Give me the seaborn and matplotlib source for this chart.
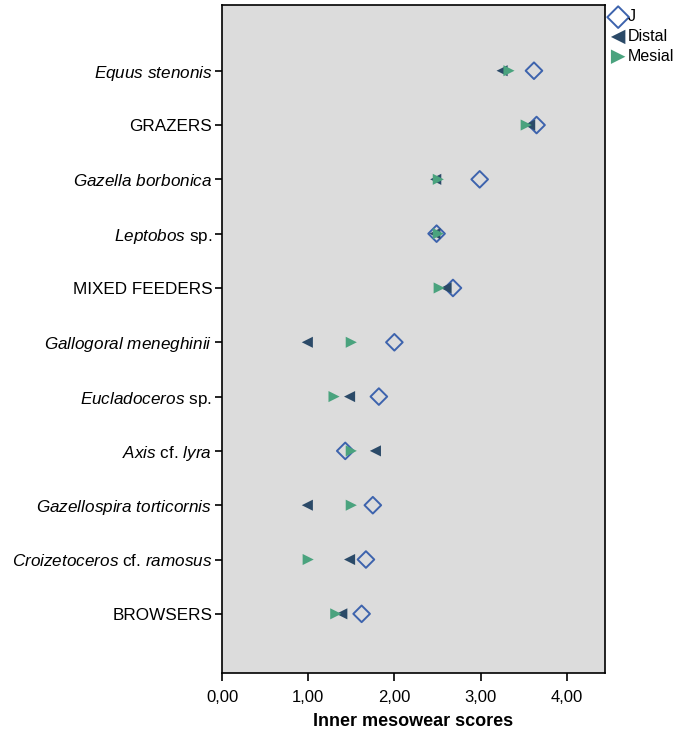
import matplotlib
matplotlib.use("Agg")
import matplotlib.pyplot as plt
import seaborn as sns
import pandas as pd
from matplotlib.ticker import FuncFormatter

categories = [
    r"$\it{Equus\ stenonis}$",
    "GRAZERS",
    r"$\it{Gazella\ borbonica}$",
    r"$\it{Leptobos}$ sp.",
    "MIXED FEEDERS",
    r"$\it{Gallogoral\ meneghinii}$",
    r"$\it{Eucladoceros}$ sp.",
    r"$\it{Axis}$ cf. $\it{lyra}$",
    r"$\it{Gazellospira\ torticornis}$",
    r"$\it{Croizetoceros}$ cf. $\it{ramosus}$",
    "BROWSERS",
]
j_values = [3.62, 3.65, 2.99, 2.49, 2.68, 2.00, 1.82, 1.43, 1.75, 1.67, 1.62]
distal_values = [3.25, 3.57, 2.48, 2.47, 2.60, 0.99, 1.48, 1.78, 0.99, 1.48, 1.39]
mesial_values = [3.33, 3.53, 2.51, 2.51, 2.52, 1.50, 1.30, 1.50, 1.50, 1.00, 1.32]
xticks = [0, 1, 2, 3, 4]

sns.set_theme(style="white")
plt.rcParams["font.family"] = ["Liberation Sans", "DejaVu Sans"]
plt.rcParams["mathtext.fontset"] = "custom"
plt.rcParams["mathtext.rm"] = "Liberation Sans"
plt.rcParams["mathtext.it"] = "Liberation Sans:italic"
plt.rcParams["mathtext.bf"] = "Liberation Sans:bold"
plt.rcParams["text.color"] = "black"
plt.rcParams["axes.labelcolor"] = "black"

df = pd.DataFrame({"cat": categories, "J": j_values,
                   "Distal": distal_values, "Mesial": mesial_values})

fig = plt.figure(figsize=(6.74, 7.37), dpi=100)
ax = fig.add_axes([0.3294, 0.0868, 0.8976 - 0.3294, 0.9932 - 0.0868])
ax.set_facecolor("#dcdcdc")

blue = "#3d63ad"
navy = "#2b4a68"
green = "#4aa37e"

sns.scatterplot(data=df, x="J", y="cat", marker="D", s=72, facecolor="none",
                edgecolor=blue, linewidth=1.4, ax=ax, label="J", zorder=3)
sns.scatterplot(data=df, x="Distal", y="cat", marker="<", s=64, color=navy,
                edgecolor="none", ax=ax, label="Distal", zorder=4)
sns.scatterplot(data=df, x="Mesial", y="cat", marker=">", s=64, color=green,
                edgecolor="none", ax=ax, label="Mesial", zorder=5)

ax.set_xlim(0, 4.444)
ax.set_ylim(len(categories) - 1 + 1.09, -1.21)
ax.set_xticks(xticks)
ax.xaxis.set_major_formatter(FuncFormatter(lambda v, p: f"{v:.2f}".replace(".", ",")))
ax.tick_params(axis="both", which="both", direction="out", length=6, width=1.2,
               colors="black", bottom=True, left=True)
ax.tick_params(axis="x", pad=6, labelsize=12)
ax.tick_params(axis="y", length=5, pad=2, labelsize=12.3)
for s in ax.spines.values():
    s.set_color("black")
    s.set_linewidth(1.2)

ax.set_ylabel("")
ax.set_xlabel("Inner mesowear scores", fontsize=13, fontweight="bold", labelpad=6)

leg = ax.legend(loc="upper left", bbox_to_anchor=(0.897, 0.996),
                bbox_transform=fig.transFigure, frameon=False, fontsize=11.5,
                handletextpad=0.15, labelspacing=0.3, borderaxespad=0,
                handlelength=0.9, markerscale=1.3)
for t in leg.get_texts():
    t.set_color("black")

fig.savefig("out.png", dpi=100, facecolor="white")
